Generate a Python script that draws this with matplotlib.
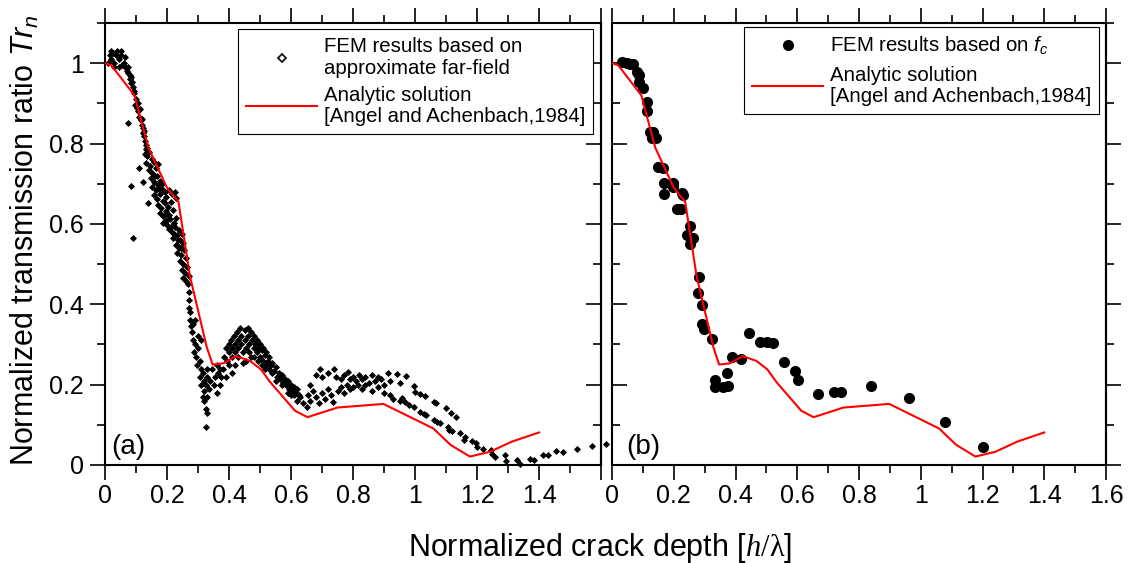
import matplotlib
matplotlib.use("Agg")
import matplotlib.pyplot as plt
import numpy as np
from matplotlib.ticker import MultipleLocator, FuncFormatter
from matplotlib.lines import Line2D

plt.rcParams['font.family'] = ['Liberation Sans', 'DejaVu Sans']
plt.rcParams['mathtext.fontset'] = 'custom'
plt.rcParams['mathtext.rm'] = 'Liberation Sans'
plt.rcParams['mathtext.it'] = 'Liberation Sans:italic'
plt.rcParams['mathtext.bf'] = 'Liberation Serif:italic'
plt.rcParams['mathtext.sf'] = 'Liberation Serif'

# analytic solution [Angel and Achenbach, 1984]
ana_x = [0, 0.02, 0.095, 0.14, 0.2, 0.237, 0.274, 0.328, 0.347, 0.382, 0.423, 0.468,
         0.503, 0.532, 0.613, 0.653, 0.75, 0.898, 1.059, 1.115, 1.177, 1.242, 1.312, 1.4]
ana_y = [1.0, 0.995, 0.92, 0.79, 0.69, 0.655, 0.47, 0.294, 0.25, 0.253, 0.271, 0.259,
         0.238, 0.207, 0.135, 0.119, 0.143, 0.152, 0.091, 0.05, 0.021, 0.033, 0.058, 0.081]

# (b) FEM results based on f_c
fc_x = [0.031, 0.048, 0.058, 0.069, 0.080, 0.086, 0.086, 0.099, 0.112, 0.112, 0.123, 0.134,
        0.128, 0.141, 0.150, 0.166, 0.169, 0.169, 0.196, 0.196, 0.226, 0.231, 0.209, 0.223,
        0.252, 0.242, 0.263, 0.252, 0.283, 0.279, 0.293, 0.292, 0.298, 0.325, 0.333, 0.333,
        0.360, 0.376, 0.371, 0.389, 0.417, 0.444, 0.480, 0.501, 0.520, 0.557, 0.592, 0.601,
        0.666, 0.720, 0.741, 0.840, 0.961, 1.080, 1.200]
fc_y = [1.003, 1.001, 0.999, 0.998, 0.978, 0.970, 0.953, 0.937, 0.904, 0.881, 0.829, 0.829,
        0.815, 0.815, 0.742, 0.738, 0.703, 0.674, 0.701, 0.691, 0.677, 0.672, 0.636, 0.638,
        0.595, 0.572, 0.564, 0.550, 0.467, 0.429, 0.399, 0.350, 0.338, 0.313, 0.211, 0.195,
        0.193, 0.197, 0.228, 0.268, 0.265, 0.328, 0.307, 0.307, 0.303, 0.257, 0.235, 0.211,
        0.177, 0.182, 0.182, 0.197, 0.167, 0.108, 0.046]

# (a) FEM results based on approximate far-field (x, y)
ff_top = [(0.01, 1.0), (0.015, 1.02), (0.02, 1.01), (0.025, 1.025), (0.03, 1.0), (0.035, 1.02),
          (0.04, 1.03), (0.045, 1.01), (0.05, 1.02), (0.055, 0.995), (0.06, 1.0), (0.065, 1.015),
          (0.03, 0.99), (0.045, 0.99), (0.02, 1.03), (0.05, 1.03),
          (0.065, 0.99), (0.07, 0.98), (0.075, 0.975), (0.08, 0.96), (0.082, 0.97), (0.085, 0.95),
          (0.09, 0.94), (0.092, 0.925), (0.095, 0.93), (0.1, 0.91), (0.098, 0.895), (0.105, 0.9),
          (0.108, 0.88), (0.111, 0.867), (0.113, 0.885), (0.116, 0.858), (0.118, 0.847), (0.121, 0.838),
          (0.123, 0.826), (0.126, 0.818), (0.129, 0.806), (0.131, 0.797), (0.133, 0.786), (0.136, 0.778),
          (0.075, 0.99), (0.085, 0.965), (0.088, 0.952), (0.104, 0.888), (0.119, 0.862), (0.127, 0.832),
          (0.075, 0.85), (0.084, 0.695), (0.091, 0.564), (0.11, 0.74), (0.123, 0.704),
          (0.14, 0.652), (0.186, 0.603), (0.231, 0.547)]
ff_fall = [(0.128, 0.775), (0.137, 0.768), (0.143, 0.779), (0.152, 0.762), (0.133, 0.752),
           (0.146, 0.744), (0.158, 0.755), (0.141, 0.733), (0.153, 0.726), (0.163, 0.738),
           (0.149, 0.714), (0.157, 0.705), (0.168, 0.719), (0.176, 0.708), (0.152, 0.693),
           (0.163, 0.684), (0.171, 0.697), (0.184, 0.688), (0.193, 0.679), (0.158, 0.671),
           (0.167, 0.662), (0.178, 0.674), (0.186, 0.658), (0.197, 0.667), (0.172, 0.648),
           (0.181, 0.639), (0.192, 0.651), (0.203, 0.643), (0.212, 0.655), (0.179, 0.628),
           (0.188, 0.619), (0.198, 0.633), (0.207, 0.622), (0.219, 0.634), (0.192, 0.607),
           (0.201, 0.598), (0.211, 0.612), (0.222, 0.603), (0.229, 0.615), (0.206, 0.588),
           (0.217, 0.579), (0.226, 0.592), (0.238, 0.584), (0.219, 0.566), (0.231, 0.572),
           (0.242, 0.561), (0.248, 0.575), (0.228, 0.548), (0.239, 0.541), (0.251, 0.553),
           (0.233, 0.527), (0.246, 0.522), (0.256, 0.534), (0.241, 0.508), (0.252, 0.499),
           (0.262, 0.514), (0.247, 0.486), (0.257, 0.478), (0.266, 0.492), (0.253, 0.466),
           (0.262, 0.458), (0.271, 0.471),
           (0.205, 0.685), (0.215, 0.675), (0.225, 0.68), (0.23, 0.665), (0.16, 0.72),
           (0.17, 0.75), (0.135, 0.79), (0.185, 0.7), (0.2, 0.61), (0.215, 0.595),
           (0.235, 0.56), (0.245, 0.54), (0.174, 0.686), (0.196, 0.625), (0.224, 0.575)]
ff_dip = [(0.268, 0.45), (0.27, 0.43), (0.272, 0.41), (0.27, 0.39), (0.275, 0.38), (0.273, 0.36),
          (0.278, 0.345), (0.282, 0.33), (0.285, 0.31), (0.29, 0.3), (0.288, 0.28), (0.295, 0.27),
          (0.298, 0.25), (0.3, 0.29), (0.305, 0.26), (0.31, 0.24), (0.305, 0.22), (0.31, 0.2),
          (0.315, 0.23), (0.318, 0.21), (0.32, 0.185), (0.325, 0.2), (0.328, 0.24), (0.33, 0.22),
          (0.335, 0.19), (0.34, 0.21), (0.345, 0.24), (0.35, 0.2), (0.355, 0.22), (0.36, 0.18),
          (0.36, 0.25), (0.365, 0.23), (0.37, 0.2), (0.372, 0.24), (0.375, 0.22), (0.315, 0.17),
          (0.32, 0.16), (0.33, 0.17), (0.326, 0.14), (0.33, 0.13), (0.325, 0.095), (0.29, 0.36),
          (0.285, 0.35), (0.3, 0.32), (0.31, 0.31)]
ff_hump = [(0.38, 0.24), (0.385, 0.27), (0.39, 0.29), (0.39, 0.22), (0.395, 0.26), (0.4, 0.3),
           (0.4, 0.28), (0.405, 0.31), (0.41, 0.27), (0.41, 0.29), (0.415, 0.32), (0.42, 0.3),
           (0.42, 0.28), (0.425, 0.33), (0.43, 0.31), (0.43, 0.29), (0.435, 0.34), (0.44, 0.32),
           (0.44, 0.3), (0.445, 0.28), (0.45, 0.335), (0.45, 0.31), (0.455, 0.29), (0.46, 0.34),
           (0.46, 0.32), (0.465, 0.3), (0.47, 0.33), (0.47, 0.27), (0.475, 0.31), (0.48, 0.32),
           (0.48, 0.29), (0.485, 0.3), (0.49, 0.31), (0.49, 0.28), (0.495, 0.29), (0.5, 0.3),
           (0.5, 0.27), (0.505, 0.285), (0.51, 0.29), (0.51, 0.26), (0.515, 0.275), (0.52, 0.28),
           (0.52, 0.25), (0.525, 0.26), (0.53, 0.27), (0.53, 0.24), (0.535, 0.25), (0.54, 0.255),
           (0.545, 0.235), (0.55, 0.245), (0.555, 0.22), (0.56, 0.23), (0.565, 0.215), (0.57, 0.225),
           (0.575, 0.205), (0.58, 0.215), (0.585, 0.2), (0.59, 0.21), (0.595, 0.19), (0.6, 0.2),
           (0.605, 0.185), (0.61, 0.195), (0.615, 0.18), (0.62, 0.19), (0.625, 0.175), (0.43, 0.27),
           (0.445, 0.255), (0.42, 0.25), (0.4, 0.25), (0.41, 0.23), (0.455, 0.26), (0.465, 0.28),
           (0.48, 0.27), (0.495, 0.26), (0.505, 0.25), (0.515, 0.24), (0.54, 0.23), (0.55, 0.21),
           (0.57, 0.2), (0.6, 0.175), (0.59, 0.18)]
ff_tail = [(0.66, 0.2), (0.68, 0.225), (0.694, 0.238), (0.7, 0.22), (0.72, 0.23), (0.74, 0.238),
           (0.745, 0.22), (0.76, 0.215), (0.77, 0.225), (0.785, 0.232), (0.79, 0.215), (0.8, 0.22),
           (0.81, 0.21), (0.82, 0.225), (0.83, 0.215), (0.84, 0.22), (0.85, 0.205), (0.86, 0.225),
           (0.87, 0.21), (0.88, 0.22), (0.89, 0.215), (0.9, 0.2), (0.914, 0.228), (0.92, 0.21),
           (0.941, 0.227), (0.95, 0.205), (0.971, 0.221),
           (0.63, 0.17), (0.64, 0.155), (0.65, 0.145), (0.655, 0.175), (0.66, 0.16), (0.67, 0.185),
           (0.68, 0.17), (0.69, 0.155), (0.7, 0.18), (0.71, 0.165), (0.72, 0.19), (0.73, 0.175),
           (0.737, 0.158), (0.75, 0.185), (0.76, 0.195), (0.77, 0.18), (0.78, 0.2), (0.79, 0.19),
           (0.8, 0.195), (0.815, 0.2), (0.83, 0.19), (0.84, 0.2), (0.86, 0.185), (0.88, 0.195),
           (0.9, 0.18), (0.92, 0.175), (0.93, 0.165), (0.95, 0.16), (0.957, 0.167), (0.968, 0.157),
           (0.98, 0.15), (0.62, 0.16), (0.61, 0.175),
           (0.997, 0.197), (1.0, 0.182), (1.016, 0.177), (1.032, 0.172), (0.997, 0.145),
           (1.016, 0.132), (1.03, 0.128), (1.035, 0.124), (1.061, 0.157), (1.068, 0.154),
           (1.06, 0.112), (1.07, 0.108), (1.08, 0.104), (1.1, 0.142), (1.115, 0.13), (1.132, 0.12),
           (1.106, 0.095), (1.11, 0.088), (1.12, 0.084), (1.145, 0.08), (1.16, 0.07), (1.158, 0.062),
           (1.184, 0.06), (1.197, 0.055), (1.2, 0.045), (1.219, 0.04), (1.244, 0.037), (1.248, 0.028),
           (1.258, 0.02), (1.29, 0.025), (1.292, 0.01), (1.33, 0.012), (1.34, 0.002), (1.371, 0.015),
           (1.384, 0.012), (1.413, 0.025), (1.429, 0.025), (1.454, 0.035), (1.476, 0.032),
           (1.524, 0.04), (1.57, 0.047), (1.616, 0.052)]

ff = np.array(ff_top + ff_fall + ff_dip + ff_hump + ff_tail)

fig = plt.figure(figsize=(11.35, 5.63), dpi=100)
ax1 = fig.add_axes([105 / 1135, 98 / 563, 496 / 1135, 442 / 563])
ax2 = fig.add_axes([612 / 1135, 98 / 563, 494 / 1135, 442 / 563])

ax1.plot(ff[:, 0], ff[:, 1], ls='none', marker='D', ms=3, color='black', mew=0.6, clip_on=False, zorder=3)
ax1.plot(ana_x, ana_y, color='red', lw=1.5, zorder=4)
ax2.plot(fc_x, fc_y, ls='none', marker='o', ms=7, color='black', zorder=3)
ax2.plot(ana_x, ana_y, color='red', lw=1.5, zorder=4)

fmt = FuncFormatter(lambda v, p: '%g' % round(v, 2))
fmt_left = FuncFormatter(lambda v, p: '' if v > 1.5 else '%g' % round(v, 2))

for ax, side in [(ax1, 'a'), (ax2, 'b')]:
    ax.set_xlim(0, 1.6)
    ax.set_ylim(0, 1.1)
    for s in ax.spines.values():
        s.set_linewidth(1.5)
    ax.xaxis.set_major_locator(MultipleLocator(0.2))
    ax.xaxis.set_minor_locator(MultipleLocator(0.1))
    ax.yaxis.set_major_locator(MultipleLocator(0.2))
    ax.yaxis.set_minor_locator(MultipleLocator(0.1))
    ax.tick_params(axis='x', which='both', direction='out', top=True, bottom=True,
                   labelsize=18, pad=3)
    ax.tick_params(which='major', length=11, width=1.2)
    ax.tick_params(which='minor', length=5.5, width=1.2)
    sec = ax.secondary_yaxis('right')
    sec.yaxis.set_major_locator(MultipleLocator(0.2))
    sec.yaxis.set_minor_locator(MultipleLocator(0.1))
    sec.spines['right'].set_linewidth(1.5)
    sec.tick_params(which='major', length=11, width=1.2, labelright=False)
    sec.tick_params(which='minor', length=5.5, width=1.2)
    if side == 'a':
        ax.xaxis.set_major_formatter(fmt_left)
        ax.yaxis.set_major_formatter(fmt)
        ax.tick_params(axis='y', which='both', direction='out', labelsize=18, pad=4)
        sec.tick_params(which='both', direction='in')
    else:
        ax.xaxis.set_major_formatter(fmt)
        ax.tick_params(axis='y', which='both', direction='in', labelleft=False)
        sec.tick_params(which='both', direction='out')

ax1.text(0.02, 0.012, '(a)', fontsize=20, ha='left', va='bottom')
ax2.text(0.045, 0.012, '(b)', fontsize=20, ha='left', va='bottom')

h1 = [Line2D([], [], ls='none', marker='D', ms=4, mfc='white', mec='black', mew=1.2),
      Line2D([], [], color='red', lw=1.5)]
l1 = ['FEM results based on\napproximate far-field', 'Analytic solution\n[Angel and Achenbach,1984]']
h2 = [Line2D([], [], ls='none', marker='o', ms=7, color='black'),
      Line2D([], [], color='red', lw=1.5)]
l2 = ['FEM results based on $f_c$', 'Analytic solution\n[Angel and Achenbach,1984]']

for ax, h, l, anchor in [(ax1, h1, l1, (0.984, 0.986)), (ax2, h2, l2, (0.986, 0.991))]:
    leg = ax.legend(h, l, loc='upper right', bbox_to_anchor=anchor, borderaxespad=0,
                    fontsize=14.7, fancybox=False, framealpha=1, edgecolor='black',
                    handlelength=3.5, handletextpad=0.3, labelspacing=0.4,
                    borderpad=0.4)
    leg.get_frame().set_linewidth(0.8)
    for t in leg.get_texts():
        t.set_linespacing(1.15)

fig.text(25 / 1135, 1 - 240 / 563, 'Normalized transmission ratio $Tr_n$', rotation=90,
         ha='center', va='center', fontsize=22)
fig.text(600 / 1135, 1 - 548 / 563, r'Normalized crack depth [$\mathbf{h}\mathsf{/\lambda}$]',
         ha='center', va='center', fontsize=22)

fig.savefig('out.png', dpi=100)
